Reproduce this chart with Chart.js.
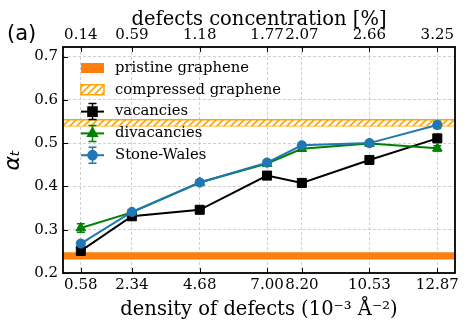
<!DOCTYPE html>
<html>
<head>
<meta charset="utf-8">
<script src="https://cdn.jsdelivr.net/npm/chart.js@4"></script>
<style>
  html, body { margin: 0; padding: 0; background: #fff; }
  #wrap { width: 468px; height: 330px; }
</style>
</head>
<body>
<div id="wrap"><canvas id="chart"></canvas></div>
<script>
const densities = [0.58, 2.34, 4.68, 7.00, 8.20, 10.53, 12.87];
const concentrations = ['0.14', '0.59', '1.18', '1.77', '2.07', '2.66', '3.25'];
const alphaTicks = [0.2, 0.3, 0.4, 0.5, 0.6, 0.7];

const vacancies = [0.251, 0.331, 0.346, 0.425, 0.408, 0.461, 0.511];
const vacanciesErr = [0.007, 0.005, 0.005, 0.006, 0.006, 0.006, 0.007];
const divacancies = [0.304, 0.340, 0.409, 0.453, 0.487, 0.499, 0.488];
const divacanciesErr = [0.010, 0.005, 0.005, 0.006, 0.006, 0.006, 0.006];
const stoneWales = [0.268, 0.341, 0.409, 0.455, 0.495, 0.500, 0.542];
const stoneWalesErr = [0.006, 0.005, 0.006, 0.006, 0.006, 0.006, 0.008];

const pristineBand = [0.231, 0.248];
const compressedBand = [0.540, 0.554];

const xMin = -0.034, xMax = 13.48;
const yMin = 0.2, yMax = 0.722;

const ORANGE = '#ff7f0e';
const HATCH = '#ffa500';
const serif = 'DejaVu Serif';

// hatch pattern for the compressed graphene band
function makeHatch() {
    const c = document.createElement('canvas');
    c.width = 7; c.height = 7;
    const g = c.getContext('2d');
    g.fillStyle = '#fff';
    g.fillRect(0, 0, 7, 7);
    g.strokeStyle = HATCH;
    g.lineWidth = 1.6;
    g.beginPath();
    g.moveTo(-1, 8); g.lineTo(8, -1);
    g.moveTo(-2, 2); g.lineTo(2, -2);
    g.moveTo(5, 9); g.lineTo(9, 5);
    g.stroke();
    return g.createPattern(c, 'repeat');
}
const hatch = makeHatch();

const pts = ys => densities.map((x, i) => ({ x: x, y: ys[i] }));
const hline = y => [{ x: xMin - 1, y: y }, { x: xMax + 1, y: y }];

const series = [
    { label: 'vacancies', data: pts(vacancies), errors: vacanciesErr, color: '#000000', style: 'rect', r: 6.4 },
    { label: 'divacancies', data: pts(divacancies), errors: divacanciesErr, color: '#008000', style: 'triangle', r: 5.6 },
    { label: 'Stone-Wales', data: pts(stoneWales), errors: stoneWalesErr, color: '#1f77b4', style: 'circle', r: 4.6 }
];

const datasets = [
    { label: 'pristine graphene', data: hline(pristineBand[1]), borderWidth: 0, pointRadius: 0,
      backgroundColor: ORANGE, fill: { value: pristineBand[0] }, order: 10 },
    { label: 'compressed graphene', data: hline(compressedBand[1]), borderColor: HATCH, borderWidth: 1.5,
      pointRadius: 0, backgroundColor: hatch, fill: { value: compressedBand[0] }, order: 9 },
    { label: '', data: hline(compressedBand[0]), borderColor: HATCH, borderWidth: 1.5, pointRadius: 0,
      fill: false, order: 9 }
];
series.forEach((s, i) => {
    datasets.push({
        label: s.label, data: s.data, errors: s.errors,
        borderColor: s.color, backgroundColor: s.color, borderWidth: 2,
        pointStyle: s.style, pointRadius: s.r, pointBorderWidth: 1,
        fill: false, tension: 0, order: 3 - i
    });
});

// error bars drawn under each series' markers
const errorBars = {
    id: 'errorBars',
    beforeDatasetDraw(chart, args) {
        const ds = chart.data.datasets[args.index];
        if (!ds.errors) return;
        const y = chart.scales.y;
        const ctx = chart.ctx;
        ctx.save();
        ctx.strokeStyle = ds.borderColor;
        ctx.lineWidth = 1.5;
        ctx.beginPath();
        args.meta.data.forEach((p, i) => {
            const v = ds.data[i].y, e = ds.errors[i];
            const top = y.getPixelForValue(v + e), bot = y.getPixelForValue(v - e);
            ctx.moveTo(p.x, top); ctx.lineTo(p.x, bot);
            ctx.moveTo(p.x - 4, top); ctx.lineTo(p.x + 4, top);
            ctx.moveTo(p.x - 4, bot); ctx.lineTo(p.x + 4, bot);
        });
        ctx.stroke();
        ctx.restore();
    }
};

// frame, inward ticks, panel tag and legend
const decorations = {
    id: 'decorations',
    afterDraw(chart) {
        const { ctx, chartArea: a, scales } = chart;
        ctx.save();
        ctx.strokeStyle = '#000';
        ctx.lineWidth = 1;
        ctx.beginPath();
        scales.x.ticks.forEach(t => {
            const px = Math.round(scales.x.getPixelForValue(t.value)) + 0.5;
            ctx.moveTo(px, a.bottom); ctx.lineTo(px, a.bottom - 5);
            ctx.moveTo(px, a.top); ctx.lineTo(px, a.top + 5);
        });
        scales.y.ticks.forEach(t => {
            const py = Math.round(scales.y.getPixelForValue(t.value)) + 0.5;
            ctx.moveTo(a.left, py); ctx.lineTo(a.left + 5, py);
        });
        ctx.stroke();
        ctx.lineWidth = 1.8;
        ctx.strokeRect(a.left, a.top, a.right - a.left, a.bottom - a.top);

        ctx.fillStyle = '#000';
        ctx.font = '21px "DejaVu Sans"';
        ctx.textBaseline = 'middle';
        ctx.textAlign = 'left';
        ctx.fillText('(a)', 7, 35);

        // legend
        const hx0 = a.left + 18, hx1 = a.left + 41, tx = a.left + 52;
        const rowY = k => a.top + 21 + k * 21.8;
        ctx.font = '14.8px "' + serif + '"';
        ctx.fillStyle = ORANGE;
        ctx.fillRect(hx0, rowY(0) - 5, hx1 - hx0, 10);
        ctx.fillStyle = hatch;
        ctx.fillRect(hx0, rowY(1) - 5, hx1 - hx0, 10);
        ctx.strokeStyle = HATCH;
        ctx.lineWidth = 1.5;
        ctx.strokeRect(hx0, rowY(1) - 5, hx1 - hx0, 10);
        ctx.fillStyle = '#000';
        ctx.fillText(chart.data.datasets[0].label, tx, rowY(0));
        ctx.fillText(chart.data.datasets[1].label, tx, rowY(1));
        series.forEach((s, k) => {
            const yy = rowY(k + 2), cx = (hx0 + hx1) / 2;
            ctx.strokeStyle = s.color;
            ctx.lineWidth = 2;
            ctx.beginPath();
            ctx.moveTo(hx0, yy); ctx.lineTo(hx1, yy);
            ctx.stroke();
            ctx.lineWidth = 1.5;
            ctx.beginPath();
            ctx.moveTo(cx, yy - 8); ctx.lineTo(cx, yy + 8);
            ctx.moveTo(cx - 4, yy - 8); ctx.lineTo(cx + 4, yy - 8);
            ctx.moveTo(cx - 4, yy + 8); ctx.lineTo(cx + 4, yy + 8);
            ctx.stroke();
            ctx.fillStyle = s.color;
            Chart.helpers.drawPoint(ctx, { pointStyle: s.style, radius: s.r, borderWidth: 1, rotation: 0 }, cx, yy);
            ctx.fillStyle = '#000';
            ctx.fillText(s.label, tx, yy);
        });
        ctx.restore();
    }
};

const tickFont = { family: serif, size: 15 };
const gridOpts = { color: '#c4c4c4', lineWidth: 0.8, drawTicks: false };

new Chart(document.getElementById('chart'), {
    type: 'line',
    data: { datasets: datasets },
    options: {
        responsive: true,
        maintainAspectRatio: false,
        animation: false,
        layout: { padding: { left: 0, right: 13, top: 0, bottom: 0 } },
        plugins: { legend: { display: false }, tooltip: { enabled: false } },
        scales: {
            x: {
                type: 'linear', position: 'bottom', min: xMin, max: xMax,
                afterBuildTicks: s => { s.ticks = densities.map(v => ({ value: v })); },
                afterFit: s => { s.height = 57; },
                ticks: { callback: v => v.toFixed(2), font: tickFont, color: '#000', padding: 3, autoSkip: false, maxRotation: 0 },
                grid: gridOpts,
                border: { display: false, dash: [3, 2] },
                title: { display: true, text: 'density of defects (10⁻³ Å⁻²)', color: '#000',
                         font: { family: serif, size: 19.5 }, padding: { top: 0, bottom: 8 } }
            },
            x2: {
                type: 'linear', position: 'top', min: xMin, max: xMax,
                afterBuildTicks: s => { s.ticks = densities.map(v => ({ value: v })); },
                afterFit: s => { s.height = 47; },
                ticks: { callback: (v, i) => concentrations[i], font: tickFont, color: '#000', padding: 3, autoSkip: false, maxRotation: 0 },
                grid: { display: false, drawTicks: false },
                border: { display: false },
                title: { display: true, text: 'defects concentration [%]', color: '#000',
                         font: { family: serif, size: 19.5 }, padding: { top: 8, bottom: 0 } }
            },
            y: {
                type: 'linear', position: 'left', min: yMin, max: yMax,
                afterBuildTicks: s => { s.ticks = alphaTicks.map(v => ({ value: v })); },
                afterFit: s => { s.width = 63; },
                ticks: { callback: v => v.toFixed(1), font: tickFont, color: '#000', padding: 5 },
                grid: gridOpts,
                border: { display: false, dash: [3, 2] },
                title: { display: true, text: 'αₜ', color: '#000',
                         font: { family: 'DejaVu Sans', size: 22, style: 'italic' }, padding: { top: 0, bottom: 6 } }
            }
        }
    },
    plugins: [errorBars, decorations]
});
</script>
</body>
</html>
